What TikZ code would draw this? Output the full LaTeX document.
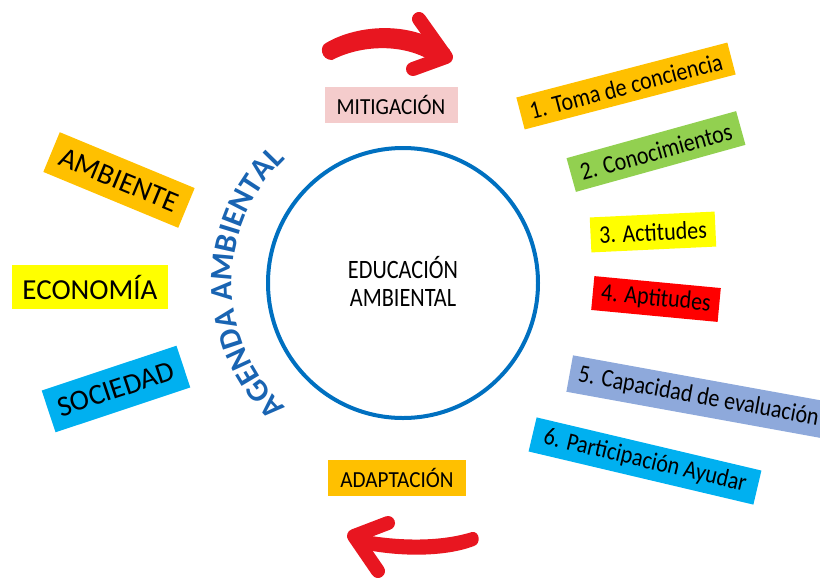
\documentclass[tikz,border=0pt]{standalone}
\usepackage{fontspec}
\setmainfont{Carlito}
\newfontfamily\rfont[FakeStretch=0.87]{Carlito}
\newfontfamily\mfont[FakeStretch=0.92]{Carlito}
\newfontfamily\cfont[FakeStretch=0.84]{Carlito}
\usetikzlibrary{decorations.text}
\definecolor{cblue}{RGB}{0,112,192}
\definecolor{agblue}{RGB}{25,100,178}
\definecolor{corange}{HTML}{FFC000}
\definecolor{cgreen}{HTML}{92D050}
\definecolor{cyellow}{HTML}{FFFF00}
\definecolor{cred}{HTML}{FF0000}
\definecolor{clav}{HTML}{8EA9DB}
\definecolor{ccyan}{HTML}{00B0F0}
\definecolor{cpink}{HTML}{F4CCCC}
\definecolor{arrred}{RGB}{232,22,32}
\begin{document}
\begin{tikzpicture}[x=1pt,y=-1pt,
  box/.style={fill=#1, inner sep=0pt, text=black, align=center},
  bigtxt/.style={font=\fontsize{29}{30}\selectfont},
  midtxt/.style={font=\mfont\fontsize{23}{25}\selectfont},
  smalltxt/.style={font=\rfont\fontsize{25.3}{27}\selectfont},
  arrshaft/.style={fill=arrred},
  arrhead/.style={draw=arrred, line width=14, line cap=round, line join=round}]
\clip (0,0) rectangle (820,582);

% central circle and text
\node[circle, draw=cblue, line width=4, minimum size=270, inner sep=0pt] (circ) at (403,283) {};
\node[font=\cfont\fontsize{26.5}{28}\selectfont, align=center] (edu) at (403,281) {EDUCACIÓN\\AMBIENTAL};

% curved text
\begin{scope}[shift={(403,283)}, x=1pt, y=1pt]
  \path[decorate, decoration={text along path, text align=center,
     text={|\bfseries\fontsize{31.5}{31.5}\selectfont\color{agblue}|AGENDA AMBIENTAL}}]
     (240:171) arc[start angle=240, end angle=120, radius=171];
\end{scope}

% top and bottom labels
\node[box=cpink, midtxt, minimum width=133, minimum height=36] (mit) at (391,105) {MITIGACIÓN};
\node[box=corange, midtxt, minimum width=138, minimum height=36] (ada) at (397,478) {ADAPTACIÓN};

% left boxes
\node[box=corange, bigtxt, minimum width=146, minimum height=43, rotate=-22.5] (amb) at (119,180) {AMBIENTE};
\node[box=cyellow, bigtxt, minimum width=156, minimum height=44] (eco) at (90,287) {ECONOMÍA};
\node[box=ccyan, bigtxt, minimum width=142, minimum height=44, rotate=18.4] (soc) at (116,389) {SOCIEDAD};

% right boxes
\node[box=corange, smalltxt, minimum width=218, minimum height=33, rotate=14.6] (b1) at (626,86) {1. Toma de conciencia};
\node[box=cgreen, smalltxt, minimum width=176, minimum height=35, rotate=15.5] (b2) at (656,151.5) {2. Conocimientos};
\node[box=cyellow, smalltxt, minimum width=125, minimum height=35, rotate=2.7] (b3) at (653,232) {3. Actitudes};
\node[box=cred, smalltxt, minimum width=127, minimum height=34, rotate=-5.4] (b4) at (656,299) {4. Aptitudes};
\node[box=clav, smalltxt, anchor=west, inner xsep=9pt, minimum height=37, rotate=-10.3] (b5) at (569.5,373.5) {5. Capacidad de evaluación};
\node[box=ccyan, smalltxt, minimum width=231, minimum height=35, rotate=-13.3] (b6) at (645,461) {6. Participación Ayudar};

% top red arrow
\fill[arrshaft] (326,43) .. controls (358,24) and (415,20) .. (450,50)
  -- (437,65) .. controls (410,44) and (365,43) .. (332,60)
  .. controls (321,60) and (319,46) .. cycle;
\draw[arrhead] (419,19) -- (446,57) -- (413,69);

% bottom red arrow
\fill[arrshaft] (472,532) .. controls (440,542) and (400,541) .. (365,535)
  -- (362,549) .. controls (400,557) and (445,557) .. (474,546)
  .. controls (481,544) and (480,531) .. cycle;
\draw[arrhead] (388,523) -- (354,536) -- (378,571);
\end{tikzpicture}
\end{document}
